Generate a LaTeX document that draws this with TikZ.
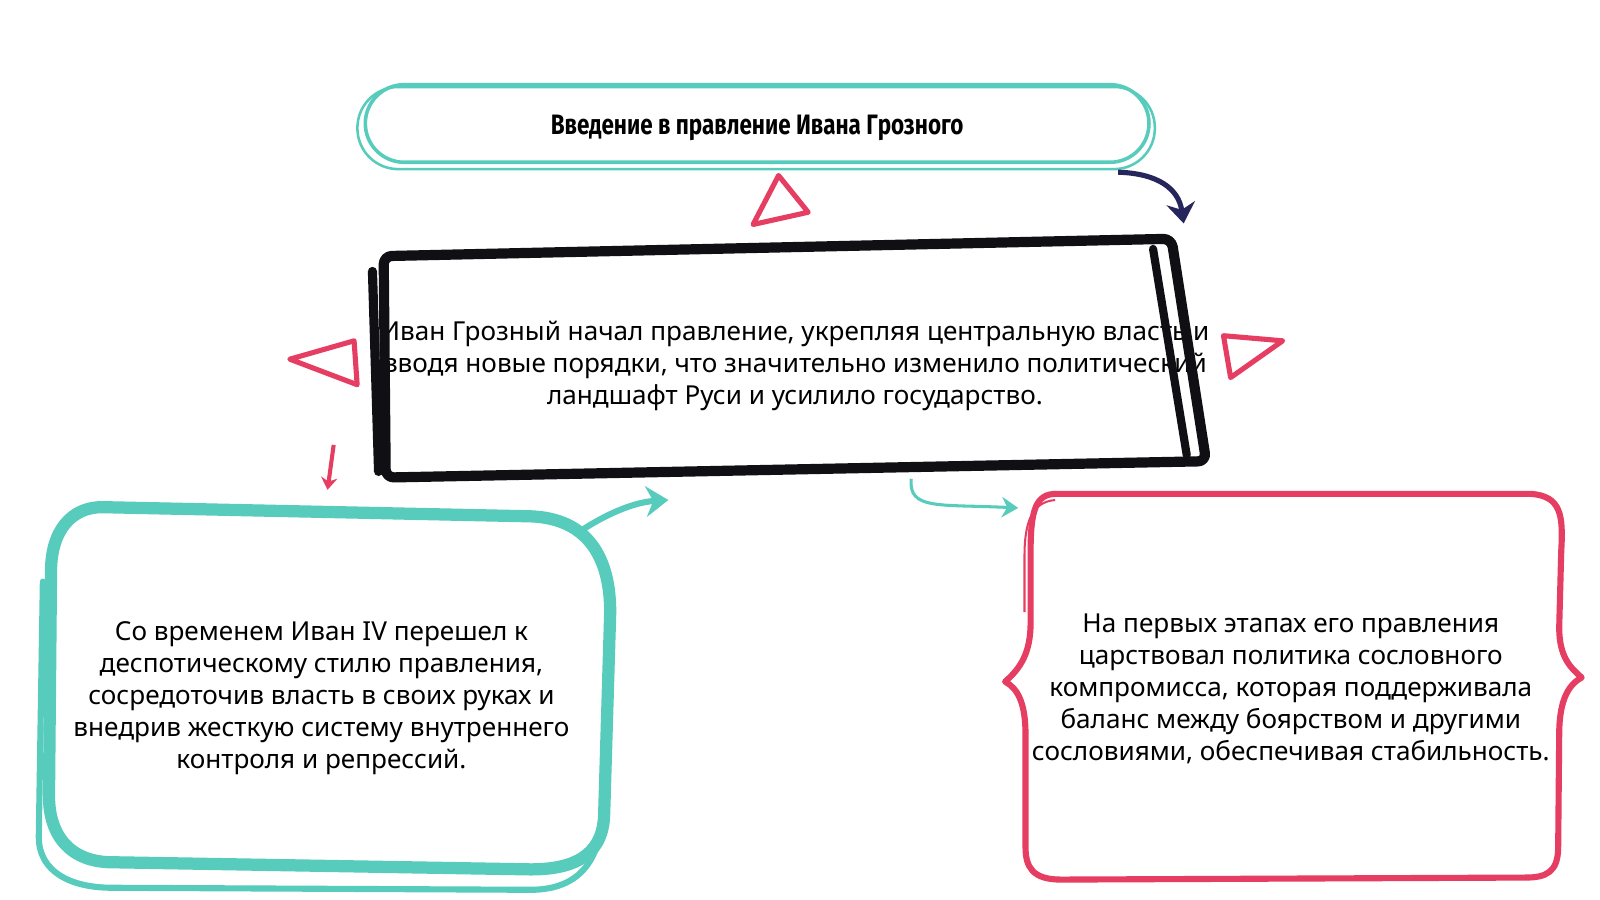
\documentclass[tikz,border=0pt]{standalone}
\usepackage{fontspec}
\setmainfont{Noto Sans}
\newfontfamily\titlefont[FakeStretch=0.8]{Fira Sans}
\usetikzlibrary{arrows.meta}
\definecolor{sea}{RGB}{88,204,188}
\definecolor{rose}{RGB}{230,62,98}
\definecolor{ink}{RGB}{16,16,20}
\definecolor{navy}{RGB}{38,38,92}
\tikzset{x=1pt, y=-1pt,
  txt/.style={font=\fontsize{25.6}{31.3}\selectfont, align=center, inner sep=0pt},
  tri/.style={draw=rose, line width=5pt, line join=round},
  seaarrow/.style={sea, line width=6pt, line cap=round, -{Stealth[length=22pt,width=30pt]}}}

\begin{document}
\begin{tikzpicture}
\useasboundingbox[fill=white] (0,0) rectangle (1568,882);
% nodes
\node (T) at (742,121) [draw=sea, line width=3.5pt, rounded corners=38pt, minimum width=768pt, minimum height=76pt,
  text height=24pt, text depth=2pt]
  {\titlefont\bfseries\fontsize{27.5}{30}\selectfont Введение в правление Ивана Грозного};
\node (M) [txt, minimum width=800pt, minimum height=222pt] at (779,359)
  {Иван Грозный начал правление, укрепляя центральную власть и\\
  вводя новые порядки, что значительно изменило политический\\
  ландшафт Руси и усилило государство.};
\node (L) [txt, minimum width=550pt, minimum height=362pt] at (315,684)
  {Со временем Иван IV перешел к\\ деспотическому стилю правления,\\
  сосредоточив власть в своих руках и\\ внедрив жесткую систему внутреннего\\ контроля и репрессий.};
\node (R) [txt, minimum width=530pt, minimum height=378pt] at (1265,675)
  {На первых этапах его правления\\ царствовал политика сословного\\
  компромисса, которая поддерживала\\ баланс между боярством и другими\\ сословиями, обеспечивая стабильность.};
% sketchy outlines
\draw[sea, line width=2.5pt, rounded corners=40pt] ([shift={(-6,5)}]T.south west) rectangle ([shift={(4,4)}]T.north east);
\draw[ink, line width=10pt, line join=round, rounded corners=8pt]
  (376,251) -- (1148,234) -- (1182,452) -- (378,468) -- cycle;
\draw[ink, line width=8pt, line cap=round] (1130,244) -- (1163,446);
\draw[ink, line width=9pt, line cap=round] (365,266) -- (371,462);
\draw[sea, line width=12pt, line join=round]
  (100,497) -- (520,506) .. controls (575,508) and (598,545) .. (598,600) -- (592,800)
  .. controls (590,840) and (560,852) .. (520,852) -- (110,845) .. controls (70,845) and (48,820) .. (48,780)
  -- (50,560) .. controls (50,520) and (70,497) .. (100,497) -- cycle;
\draw[sea, line width=6pt, line cap=round]
  (42,570) -- (38,820) .. controls (38,855) and (70,870) .. (110,870) -- (520,872)
  .. controls (570,872) and (588,840) .. (590,800);
% bracket box
\draw[rose, line width=6pt, line join=round]
  (1035,484) -- (1500,484) .. controls (1530,486) and (1532,505) .. (1530,540) -- (1528,615)
  .. controls (1528,645) and (1540,655) .. (1550,664) .. controls (1535,672) and (1528,690) .. (1528,720)
  -- (1527,830) .. controls (1527,855) and (1515,860) .. (1495,860) -- (1040,862)
  .. controls (1012,862) and (1005,850) .. (1005,830) -- (1005,720)
  .. controls (1005,690) and (998,675) .. (985,668) .. controls (1000,655) and (1010,640) .. (1010,610)
  -- (1010,540) .. controls (1010,500) and (1015,484) .. (1035,484);
\draw[rose, line width=2pt] (1004,600) -- (1004,545) .. controls (1004,510) and (1012,492) .. (1034,490);
% triangles
\draw[tri] (738,220) -- (763,172) -- (792,208) -- cycle;
\draw[tri] (284,352) -- (347,334) -- (350,377) -- cycle;
\draw[tri] (1199,329) -- (1257,334) -- (1206,370) -- cycle;
% connectors
\coordinate (a1) at ([shift={(-22,18)}]L.north east);
\coordinate (a2) at (655,490);
\coordinate (b1) at ([shift={(114,-1)}]M.south);
\coordinate (b2) at ([shift={(-2,12)}]R.north west);
\draw[navy, line width=5pt, -{Stealth[length=20pt,width=28pt]}]
  ([shift={(-32,8)}]T.south east) .. controls (1135,170) and (1155,185) .. (1160,219);
\draw[seaarrow] (a1) .. controls (600,500) and (625,492) .. (a2);
\draw[sea, line width=3pt, -{Stealth[length=16pt,width=20pt]}]
  (b1) .. controls (890,500) and (920,494) .. (b2);
\draw[rose, line width=4pt, -{Stealth[length=12pt,width=16pt]}] (327,436) -- (321,480);
\end{tikzpicture}
\end{document}
